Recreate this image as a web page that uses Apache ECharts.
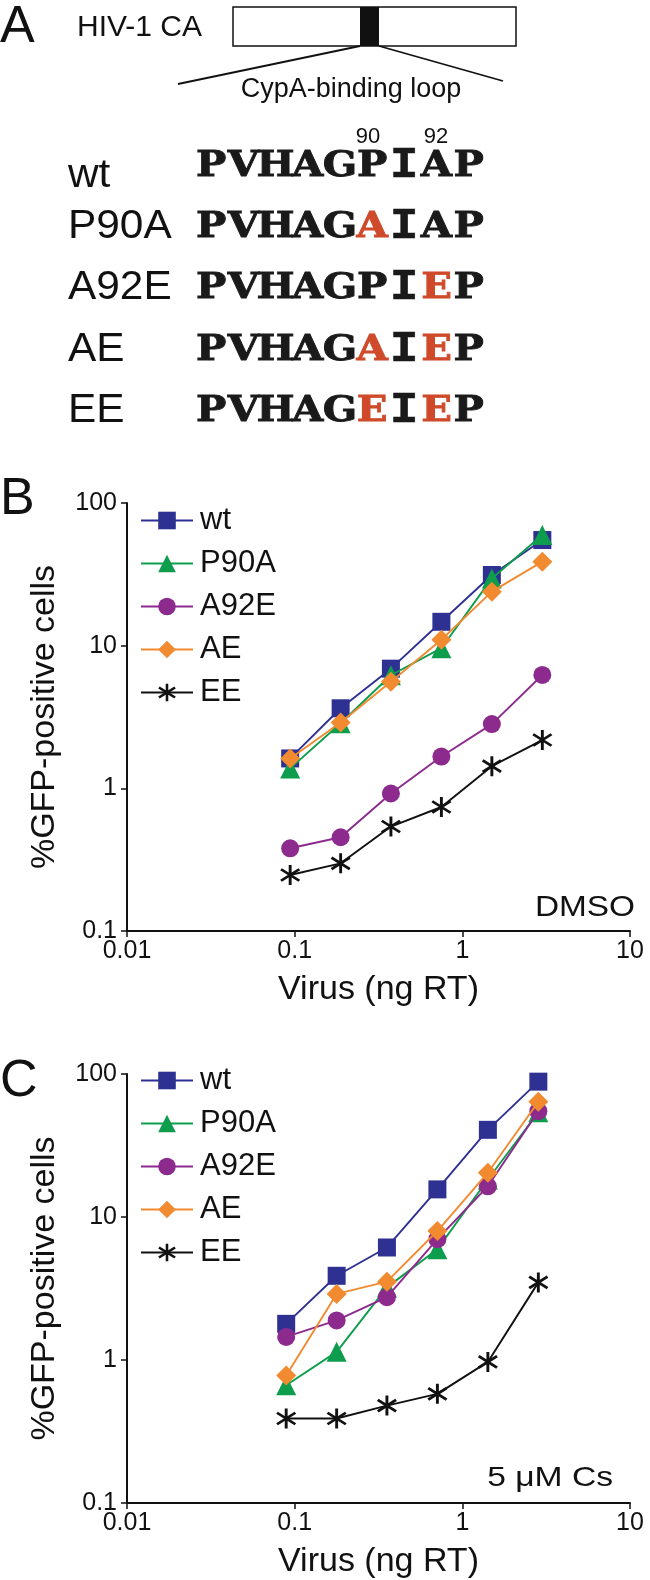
<!DOCTYPE html>
<html>
<head>
<meta charset="utf-8">
<script src="https://cdn.jsdelivr.net/npm/echarts@6/dist/echarts.min.js"></script>
<style>
html,body{margin:0;padding:0;background:#fff;}
#chart{width:650px;height:1580px;}
</style>
</head>
<body>
<div id="chart"></div>
<script>
// ---- data ----
const seriesNames = ['wt', 'P90A', 'A92E', 'AE', 'EE'];
const doseB = [0.094, 0.188, 0.375, 0.75, 1.5, 3.0];
const doseC = [0.089, 0.178, 0.355, 0.71, 1.42, 2.84];
const wtB   = [1.62, 3.64, 6.9, 14.7, 31.3, 55];
const p90aB = [1.38, 2.86, 6.2, 9.6, 29.6, 59.7];
const a92eB = [0.38, 0.454, 0.92, 1.67, 2.82, 6.23];
const aeB   = [1.62, 2.89, 5.59, 11.0, 23.9, 38.8];
const eeB   = [0.247, 0.298, 0.54, 0.74, 1.43, 2.18];
const wtC   = [1.79, 3.88, 6.12, 15.6, 40.7, 88.4];
const p90aC = [0.666, 1.14, 3.22, 5.96, 18.3, 54];
const a92eC = [1.45, 1.89, 2.75, 7.0, 16.4, 55];
const aeC   = [0.78, 2.9, 3.53, 7.98, 20.4, 64];
const eeC   = [0.39, 0.39, 0.48, 0.58, 0.97, 3.49];
const seqRows = ['wt', 'P90A', 'A92E', 'AE', 'EE'];
const seqStrings = ['PVHAGPIAP', 'PVHAGAIAP', 'PVHAGPIEP', 'PVHAGAIEP', 'PVHAGEIEP'];
const seqMutated = [[], [5], [7], [5, 7], [5, 7]];
const conditionB = 'DMSO';
const conditionC = '5 \u03bcM Cs';

// ---- styles ----
const FONT = '"Liberation Sans", Arial, sans-serif';
const SEQFONT = 'bold 36px "DejaVu Serif", serif';
const SEQFONT_I = 'bold 45px "Liberation Mono", "Courier New", monospace';
const colors = ['#2e3192', '#0e9d4c', '#8c2a8e', '#f28a30', '#111111'];
const asterisk = 'path://M8.7,0L11.3,0L11.3,20L8.7,20Z M1.064,5.325L2.556,3.195L18.936,14.675L17.444,16.805Z M2.556,16.805L1.064,14.675L17.444,3.195L18.936,5.325Z';
const symbols = ['rect', 'triangle', 'circle', 'diamond', asterisk];
const symbolSizes = [18, 20, 18, 20, 20];

function fmt(v) { return String(Number(v.toPrecision(3))); }

function makeSeries(names, dose, arrays, gridIdx) {
  return arrays.map((arr, i) => ({
    name: names[i],
    type: 'line',
    xAxisIndex: gridIdx,
    yAxisIndex: gridIdx,
    data: dose.map((d, k) => [d, arr[k]]),
    symbol: symbols[i],
    symbolSize: symbolSizes[i],
    showAllSymbol: true,
    lineStyle: { color: colors[i], width: 1.9 },
    itemStyle: { color: colors[i], borderWidth: 0 },
    emphasis: { disabled: true },
    animation: false,
    z: 2 + i
  }));
}

function xAxis(gridIdx) {
  return {
    type: 'log', logBase: 10, min: 0.01, max: 10, gridIndex: gridIdx,
    axisLine: { lineStyle: { color: '#111', width: 2 } },
    axisTick: { show: true, length: 6, lineStyle: { color: '#111', width: 1.5 } },
    minorTick: { show: false },
    splitLine: { show: false },
    axisLabel: { fontSize: 25, color: '#111', fontFamily: FONT, margin: 8, formatter: fmt },
    name: 'Virus (ng RT)', nameLocation: 'middle', nameGap: 42,
    nameTextStyle: { fontSize: 34, color: '#111', fontFamily: FONT }
  };
}
function yAxis(gridIdx) {
  return {
    type: 'log', logBase: 10, min: 0.1, max: 100, gridIndex: gridIdx,
    axisLine: { show: true, lineStyle: { color: '#111', width: 2 } },
    axisTick: { show: true, length: 6, lineStyle: { color: '#111', width: 1.5 } },
    minorTick: { show: false },
    splitLine: { show: false },
    axisLabel: { fontSize: 25, color: '#111', fontFamily: FONT, margin: 10, formatter: fmt },
    name: '%GFP-positive cells', nameLocation: 'middle', nameRotate: 90, nameGap: 65,
    nameTextStyle: { fontSize: 34, color: '#111', fontFamily: FONT }
  };
}

function legend(top) {
  return {
    orient: 'vertical', left: 140, top: top, padding: 0,
    itemWidth: 52, itemHeight: 22, itemGap: 12,
    data: seriesNames,
    selectedMode: false,
    textStyle: { fontSize: 31, color: '#111', fontFamily: FONT, padding: [0, 0, 0, 2] }
  };
}

// ---- panel A graphics ----
const gfx = [];
gfx.push({ type: 'text', left: 0, top: 2, style: { text: 'A', font: '52px ' + FONT, fill: '#111' } });
gfx.push({ type: 'text', left: 0, top: 474, style: { text: 'B', font: '52px ' + FONT, fill: '#111' } });
gfx.push({ type: 'text', left: 0, top: 1056, style: { text: 'C', font: '52px ' + FONT, fill: '#111' } });
gfx.push({ type: 'text', x: 77, y: 28, style: { text: 'HIV-1 CA', font: '30px ' + FONT, fill: '#111', verticalAlign: 'middle' } });
gfx.push({ type: 'rect', shape: { x: 233, y: 7, width: 283, height: 39 }, style: { fill: '#fff', stroke: '#111', lineWidth: 1.5 } });
gfx.push({ type: 'rect', shape: { x: 360, y: 7, width: 19, height: 39 }, style: { fill: '#111' } });
gfx.push({ type: 'line', shape: { x1: 360, y1: 46, x2: 178, y2: 84 }, style: { stroke: '#111', lineWidth: 1.8 } });
gfx.push({ type: 'line', shape: { x1: 379, y1: 46, x2: 503, y2: 81 }, style: { stroke: '#111', lineWidth: 1.8 } });
gfx.push({ type: 'text', x: 351, y: 90, style: { text: 'CypA-binding loop', font: '27px ' + FONT, fill: '#111', align: 'center', verticalAlign: 'middle' } });
gfx.push({ type: 'text', x: 368, y: 137, style: { text: '90', font: '22px ' + FONT, fill: '#111', align: 'center', verticalAlign: 'middle' } });
gfx.push({ type: 'text', x: 436, y: 137, style: { text: '92', font: '22px ' + FONT, fill: '#111', align: 'center', verticalAlign: 'middle' } });

const seqBase = [180, 241, 302, 364, 425];
const charW = 32.2;
seqRows.forEach((lab, i) => {
  const base = seqBase[i] + (lab === 'wt' ? 10 : 0);
  gfx.push({ type: 'text', x: 68, y: base - 14, scaleX: 1.06,
    style: { text: lab, font: '40px ' + FONT, fill: '#111', verticalAlign: 'middle' } });
  const s = seqStrings[i];
  for (let k = 0; k < s.length; k++) {
    const mut = seqMutated[i].indexOf(k) >= 0;
    const col = mut ? '#cf4a2a' : '#1a1a1a';
    const isI = s[k] === 'I';
    gfx.push({ type: 'text', x: 195 + charW * (k + 0.5), y: seqBase[i] - (isI ? 14 : 13), scaleX: isI ? 1.05 : 1.12,
      style: { text: s[k], font: isI ? SEQFONT_I : SEQFONT, fill: col, stroke: col, lineWidth: isI ? 0.6 : 0.9,
        align: 'center', verticalAlign: 'middle' } });
  }
});

gfx.push({ type: 'text', x: 635, y: 908, scaleX: 1.15, style: { text: conditionB, font: '29px ' + FONT, fill: '#111', align: 'right', verticalAlign: 'middle' } });
gfx.push({ type: 'text', x: 613, y: 1478, scaleX: 1.2, style: { text: conditionC, font: '28px ' + FONT, fill: '#111', align: 'right', verticalAlign: 'middle' } });

const chart = echarts.init(document.getElementById('chart'), null, { renderer: 'canvas' });
chart.setOption({
  animation: false,
  backgroundColor: '#fff',
  grid: [
    { left: 127, top: 503, width: 503, height: 428 },
    { left: 127, top: 1074, width: 503, height: 431 }
  ],
  xAxis: [xAxis(0), xAxis(1)],
  yAxis: [yAxis(0), yAxis(1)],
  legend: [legend(505), legend(1065)],
  series: makeSeries(seriesNames, doseB, [wtB, p90aB, a92eB, aeB, eeB], 0)
    .concat(makeSeries(seriesNames, doseC, [wtC, p90aC, a92eC, aeC, eeC], 1)),
  graphic: gfx
});
</script>
</body>
</html>
